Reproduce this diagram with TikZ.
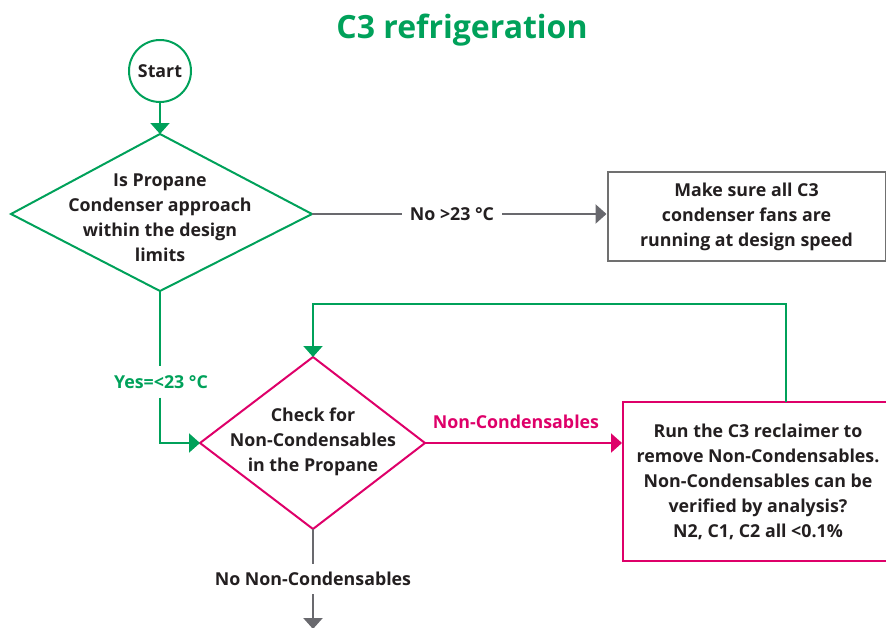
\documentclass[tikz,border=0pt]{standalone}
\usepackage{fontspec}
\setmainfont{Open Sans}
\usetikzlibrary{arrows.meta}
\definecolor{cgreen}{RGB}{0,161,90}
\definecolor{cmag}{RGB}{222,0,105}
\definecolor{cgray}{RGB}{105,105,110}
\definecolor{cbox}{RGB}{112,112,112}
\definecolor{ctext}{RGB}{35,31,32}
\begin{document}
\begin{tikzpicture}[x=1pt,y=-1pt,
  txt/.style={font=\fontsize{17.8}{25}\selectfont\bfseries, text=ctext, align=center, inner sep=0pt},
  lbl/.style={font=\fontsize{17.8}{25}\selectfont\bfseries, align=center, inner xsep=8pt, inner ysep=6pt},
  tip/.style={-{Triangle[length=11pt,width=19pt]}},
  gline/.style={draw=cgreen, line width=2pt},
  mline/.style={draw=cmag, line width=2pt},
  kline/.style={draw=cgray, line width=2.5pt},
  garrow/.style={gline, tip},
  marrow/.style={mline, tip},
  karrow/.style={kline, tip},
]
\useasboundingbox (0,0) rectangle (886,627);
\begin{scope}
\clip (0,0) rectangle (886,627);

% title
\node[font=\fontsize{32}{36}\selectfont\bfseries, text=cgreen, inner sep=0pt, anchor=base] (title) at (462,38) {C3 refrigeration};

% start
\node[circle, draw=cgreen, line width=2pt, minimum size=62pt, txt] (start) at (160,71) {Start};

% diamond 1
\coordinate (d1t) at (160,134);
\coordinate (d1r) at (312,214);
\coordinate (d1b) at (160,291);
\coordinate (d1l) at (11,214);
\draw[gline, line join=miter] (d1t) -- (d1r) -- (d1b) -- (d1l) -- cycle;
\node[txt] (d1) at (160,218) {Is Propane\\Condenser approach\\within the design\\limits};

% fans box
\node[draw=cbox, line width=2pt, minimum width=278pt, minimum height=89pt, txt] (fans) at (746.5,216.5) {Make sure all C3\\condenser fans are\\running at design speed};

% diamond 2
\coordinate (d2t) at (313,357);
\coordinate (d2r) at (425,443);
\coordinate (d2b) at (313,529);
\coordinate (d2l) at (200,443);
\draw[mline, line join=miter] (d2t) -- (d2r) -- (d2b) -- (d2l) -- cycle;
\node[txt] (d2) at (313,442) {Check for\\Non-Condensables\\in the Propane};

% reclaimer box
\node[draw=cmag, line width=2pt, minimum width=270pt, minimum height=159pt, txt] (rec) at (758,481.5) {Run the C3 reclaimer to\\remove Non-Condensables.\\Non-Condensables can be\\verified by analysis?\\N2, C1, C2 all <0.1\%};

% connectors
\draw[garrow] (start) -- (d1t);

\node[lbl, text=ctext] (nolbl) at (452,214) {No >23 °C};
\draw[kline] (d1r) -- (nolbl.west);
\draw[karrow] (nolbl.east) -- (nolbl.east -| fans.west);

\node[lbl, text=cgreen, inner ysep=9pt] (yeslbl) at (161,382) {Yes=<23 °C};
\draw[gline] (d1b) -- (yeslbl.north -| d1b);
\draw[garrow] (yeslbl.south -| d1b) |- (d2l);

\node[lbl, text=cmag, anchor=base] (nclbl) at (516,428) {Non-Condensables};
\draw[marrow] (d2r) -- (d2r -| rec.west);

\coordinate (loopb) at (786,402);
\coordinate (loopt) at (786,304);
\draw[garrow, line join=miter] (loopb) -- (loopt) -| (d2t);

\node[lbl, text=ctext, inner ysep=8pt] (nonlbl) at (313,579) {No Non-Condensables};
\draw[kline] (d2b) -- (nonlbl.north);
\coordinate (endpt) at (313,629);
\draw[karrow] (nonlbl.south) -- (endpt);
\end{scope}
\end{tikzpicture}
\end{document}
